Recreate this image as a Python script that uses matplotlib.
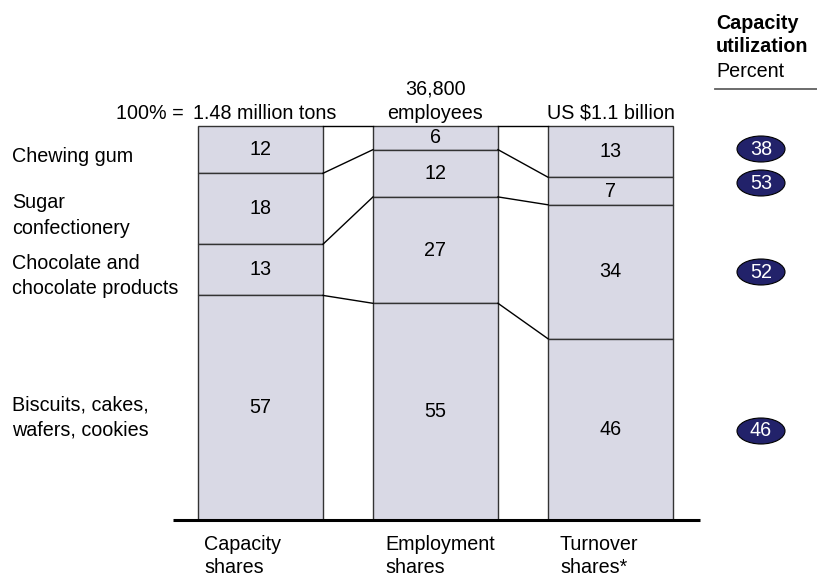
import numpy as np
import matplotlib
matplotlib.use('Agg')
import matplotlib.pyplot as plt
from matplotlib.patches import Ellipse

plt.rcParams['font.family'] = ['Liberation Sans', 'DejaVu Sans']

# Data ~~~~~~~~~~~~~~~~~~~~~~~~~~~~~~~~~~~~~~~~~~~~~~~~~~~~~~~~~~~~~~~~~~~~~~~~~
segments = ['Chewing gum', 'Sugar\nconfectionery', 'Chocolate and\nchocolate products',
            'Biscuits, cakes,\nwafers, cookies']
capacity = [12, 18, 13, 57]
employment = [6, 12, 27, 55]
turnover = [13, 7, 34, 46]
totals = ['1.48 million tons', '36,800\nemployees', 'US $1.1 billion']
columns = ['Capacity\nshares', 'Employment\nshares', 'Turnover\nshares*']
utilization = [38, 53, 52, 46]

# Layout (pixels) ~~~~~~~~~~~~~~~~~~~~~~~~~~~~~~~~~~~~~~~~~~~~~~~~~~~~~~~~~~~~~~~~
W, H = 817, 576
y0_px, y100_px = 520, 126
ppu = (y0_px - y100_px) / 100.0        # pixels per percent
FS = 14.2

def ypx(p):                             # pixel row -> data y
    return (y0_px - p) / ppu

def lines(x, yc, txt, step, ha='left', **kw):
    # multi-line text with fixed pixel line step, centred on yc
    parts = txt.split('\n')
    start = yc - step * (len(parts) - 1) / 2
    for k, s in enumerate(parts):
        ax.text(x, ypx(start + k * step), s, ha=ha, va='center', fontsize=FS, **kw)

bar_x = [260.5, 435.5, 610.5]
bar_w = 125
fill = '#d9d9e5'

fig = plt.figure(figsize=(W / 100, H / 100), dpi=100)
ax = fig.add_axes([0, 0, 1, 1])
ax.set_xlim(0, W)
ax.set_ylim(ypx(H), ypx(0))
ax.axis('off')

data = [capacity, employment, turnover]
bounds = []
for x, vals in zip(bar_x, data):
    vals = np.array(vals)
    tops = 100 - np.concatenate([[0], np.cumsum(vals)[:-1]])
    ax.bar(x, vals, width=bar_w, bottom=tops - vals, color=fill,
           edgecolor='#333333', linewidth=1.0, align='center')
    for v, t in zip(vals, tops):
        ax.text(x, t - v / 2, str(v), ha='center', va='center', fontsize=FS)
    bounds.append(tops)

# connecting lines between bars
for i in range(len(bar_x) - 1):
    xr = bar_x[i] + bar_w / 2
    xl = bar_x[i + 1] - bar_w / 2
    for a, b in zip(bounds[i], bounds[i + 1]):
        ax.plot([xr, xl], [a, b], color='black', lw=1.0)

# baseline
ax.plot([173, 700], [0, 0], color='black', lw=2.2, solid_capstyle='butt')

# top labels
ax.text(184, ypx(113), '100% =', ha='right', va='center', fontsize=FS)
lines(264.5, 113, totals[0], 24, ha='center')
lines(435.5, 101, totals[1], 24, ha='center')
lines(611, 113, totals[2], 24, ha='center')

# left labels
label_y = [156, 215.5, 276, 417.5]
for lab, yy in zip(segments, label_y):
    lines(12, yy, lab, 25)

# bottom labels
col_x = [204, 385, 560]
for lab, xx in zip(columns, col_x):
    lines(xx, 556, lab, 23)

# capacity utilization header
ax.text(716, ypx(23), 'Capacity', ha='left', va='center', fontsize=FS, fontweight='bold')
ax.text(716, ypx(47), 'utilization', ha='left', va='center', fontsize=FS, fontweight='bold')
ax.text(716, ypx(71), 'Percent', ha='left', va='center', fontsize=FS)
ax.plot([715, 817], [ypx(89), ypx(89)], color='#606060', lw=1.3)

# utilization ellipses
badge_y = [149, 183, 272, 431]
for v, yy in zip(utilization, badge_y):
    e = Ellipse((761, ypx(yy)), 48, 26 / ppu, facecolor='#22226a',
                edgecolor='black', lw=0.8)
    ax.add_patch(e)
    ax.text(761, ypx(yy), str(v), ha='center', va='center', fontsize=FS, color='white')

plt.savefig('out.png', dpi=100)
